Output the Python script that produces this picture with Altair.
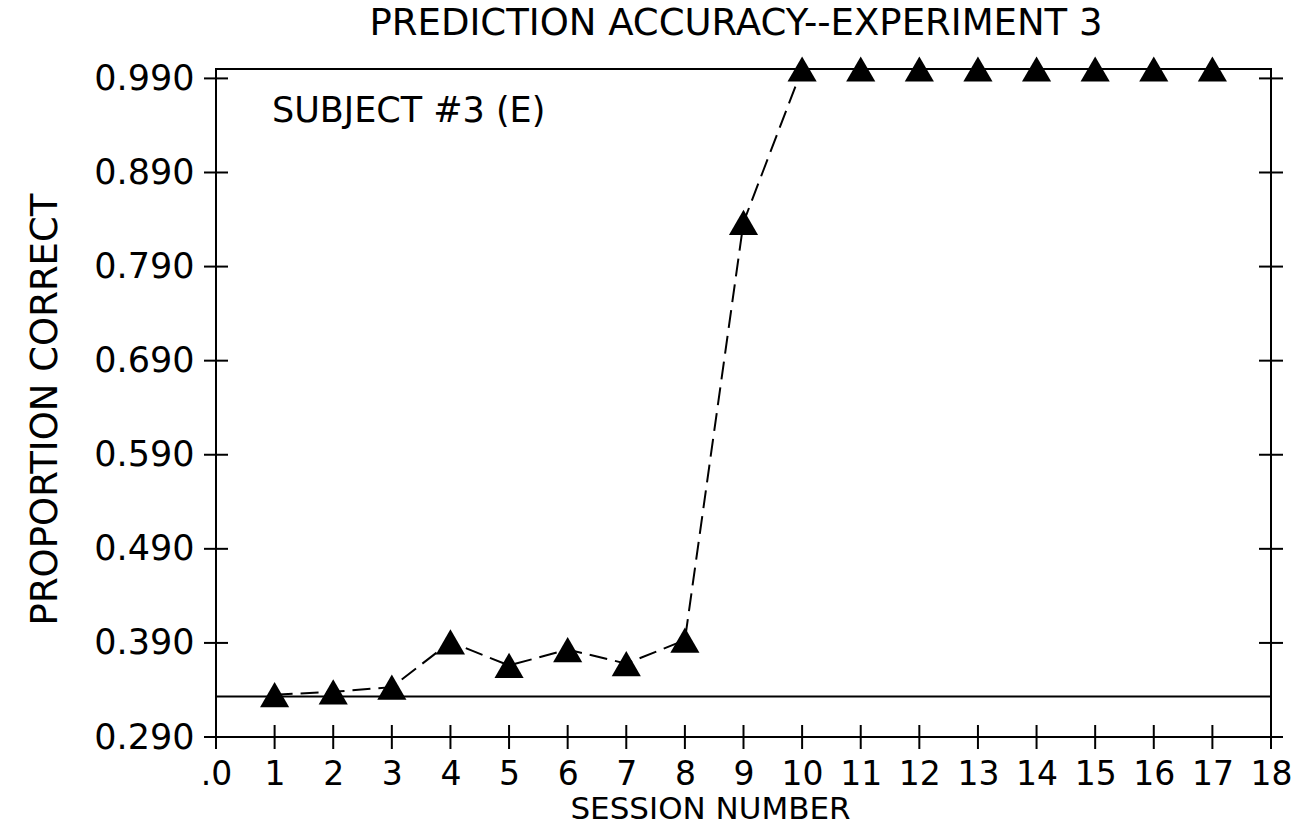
import altair as alt
import pandas as pd

# ---- data ----
sessions = list(range(1, 18))
accuracy = [0.335, 0.338, 0.343, 0.391, 0.366, 0.383, 0.368, 0.393, 0.837,
            1.0, 1.0, 1.0, 1.0, 1.0, 1.0, 1.0, 1.0]
y_ticks = [0.29, 0.39, 0.49, 0.59, 0.69, 0.79, 0.89, 0.99]
x_ticks = list(range(0, 19))
chance_level = [0.333]
title_text = "PREDICTION ACCURACY--EXPERIMENT 3"
subject_text = "SUBJECT #3 (E)"
x_title = "SESSION NUMBER"
y_title = "PROPORTION CORRECT"

WIDE = "DejaVu Sans"

df = pd.DataFrame({"session": sessions, "accuracy": accuracy})
ref_df = pd.DataFrame({"session": [0], "session2": [18], "accuracy": chance_level})
left_ticks = pd.DataFrame({"session": [0] * len(y_ticks), "accuracy": y_ticks})
right_ticks = pd.DataFrame({"session": [18] * len(y_ticks), "accuracy": y_ticks})
bottom_ticks = pd.DataFrame({"session": x_ticks, "accuracy": [0.29] * len(x_ticks)})

xs = alt.Scale(domain=[0, 18], nice=False, zero=False)
ys = alt.Scale(domain=[0.29, 1.0], nice=False, zero=False)

x_axis = alt.Axis(
    values=x_ticks, format="d",
    labelExpr="datum.value == 0 ? '.0' : datum.label",
    labelFont=WIDE, labelFontSize=33, labelPadding=21, labelColor="black",
    labelFlush=False, labelOverlap=False,
    domain=False, ticks=False, tickSize=0, grid=False,
    title=x_title, titleFont=WIDE, titleFontSize=31, titleFontWeight="normal",
    titleColor="black", titleX=494, titleY=72, titleAlign="center",
    titleBaseline="middle", titleAngle=0,
)
y_axis = alt.Axis(
    values=y_ticks, format=".3f",
    labelFont=WIDE, labelFontSize=35, labelPadding=22, labelColor="black",
    labelFlush=False, labelOverlap=False,
    domain=False, ticks=False, tickSize=0, grid=False,
    title=y_title, titleFont=WIDE, titleFontSize=37, titleFontWeight="normal",
    titleColor="black", titleX=-171, titleY=340, titleAlign="center",
    titleBaseline="middle", titleAngle=270,
)

X = alt.X("session:Q", scale=xs, axis=x_axis)
Y = alt.Y("accuracy:Q", scale=ys, axis=y_axis)

line = alt.Chart(df).mark_line(
    color="black", strokeWidth=2, strokeDash=[18, 8]
).encode(x=X, y=Y)

points = alt.Chart(df).mark_point(
    shape="triangle-up", filled=True, color="black", size=850, opacity=1
).encode(x=X, y=Y)

ref = alt.Chart(ref_df).mark_rule(color="black", strokeWidth=2).encode(
    x=X, x2="session2:Q", y=Y,
)

def tick_layer(data, orient):
    return alt.Chart(data).mark_tick(
        orient=orient, size=24, thickness=2, color="black", opacity=1
    ).encode(x=X, y=Y)

lt = tick_layer(left_ticks, "horizontal")
rt = tick_layer(right_ticks, "horizontal")
bt = tick_layer(bottom_ticks, "vertical")

subject = alt.Chart(pd.DataFrame({"t": [subject_text]})).mark_text(
    align="left", baseline="middle", font=WIDE, fontSize=35, color="black"
).encode(text="t:N", x=alt.value(56), y=alt.value(42))

title = alt.Chart(pd.DataFrame({"t": [title_text]})).mark_text(
    align="center", baseline="middle", font=WIDE, fontSize=37, color="black"
).encode(text="t:N", x=alt.value(520), y=alt.value(-45))

chart = alt.layer(ref, line, points, lt, rt, bt, subject, title).properties(
    width=1055, height=668,
    autosize=alt.AutoSizeParams(type="none"),
    padding={"left": 216, "top": 69, "right": 32, "bottom": 101},
    background="white",
).configure_view(
    stroke="black", strokeWidth=2
)

chart.save("out.html", embed_options={"renderer": "svg", "actions": False})
